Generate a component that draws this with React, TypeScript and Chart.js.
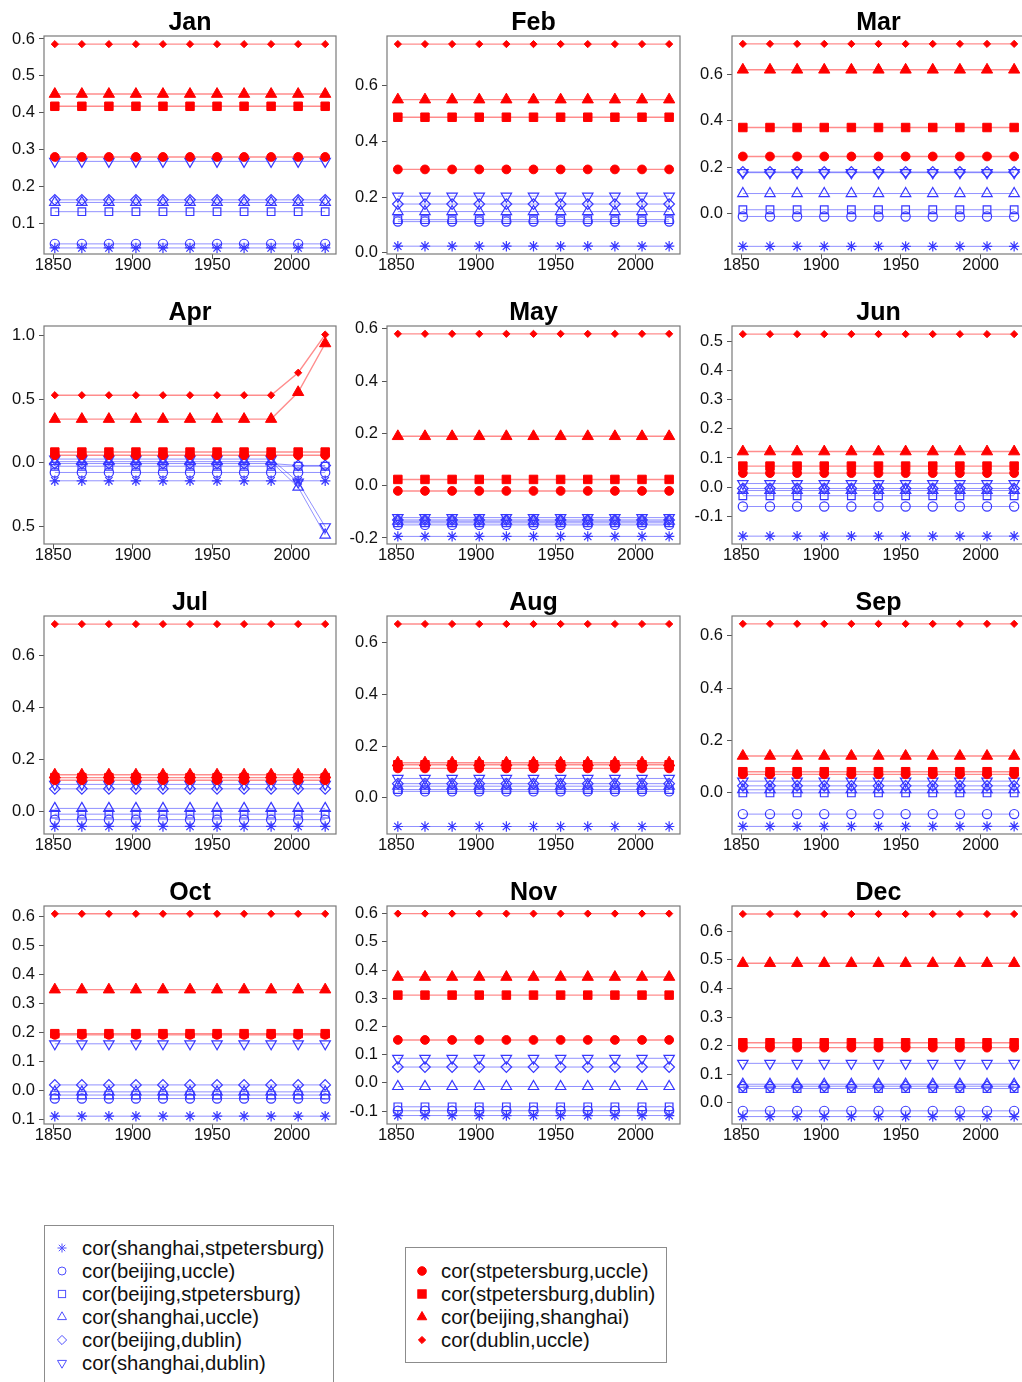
import React, { useEffect, useRef } from 'react';
import { Chart, registerables } from 'chart.js';

Chart.register(...registerables);

const MONTHS = ['Jan', 'Feb', 'Mar', 'Apr', 'May', 'Jun', 'Jul', 'Aug', 'Sep', 'Oct', 'Nov', 'Dec'];
const YEARS = [1851, 1868, 1885, 1902, 1919, 1936, 1953, 1970, 1987, 2004, 2021];
const X_TICKS = [1850, 1900, 1950, 2000];
const X_MIN = 1844.2;
const X_MAX = 2027.8;

// Monthly levels (Jan..Dec)
const SHANGHAI_STPETERSBURG = [0.035, 0.024, -0.142, -0.14, -0.194, -0.169, -0.056, -0.111, -0.128, -0.09, -0.116, -0.048];
const BEIJING_UCCLE = [0.046, 0.112, -0.013, -0.075, -0.15, -0.067, -0.03, 0.025, -0.081, -0.029, -0.099, -0.028];
const BEIJING_STPETERSBURG = [0.133, 0.119, 0.016, -0.026, -0.142, -0.03, -0.009, 0.032, 0.0, -0.017, -0.085, 0.05];
const SHANGHAI_UCCLE = [0.158, 0.148, 0.086, 0.01, -0.136, -0.012, 0.013, 0.045, 0.012, -0.006, -0.013, 0.065];
const BEIJING_DUBLIN = [0.165, 0.175, 0.179, -0.005, -0.131, -0.005, 0.088, 0.055, 0.027, 0.018, 0.056, 0.058];
const SHANGHAI_DUBLIN = [0.269, 0.203, 0.176, 0.03, -0.122, 0.012, 0.105, 0.075, 0.045, 0.16, 0.087, 0.138];
const STPETERSBURG_UCCLE = [0.281, 0.299, 0.246, 0.06, -0.02, 0.048, 0.121, 0.114, 0.071, 0.191, 0.152, 0.193];
const STPETERSBURG_DUBLIN = [0.418, 0.486, 0.371, 0.085, 0.024, 0.072, 0.131, 0.128, 0.081, 0.195, 0.311, 0.21];
const BEIJING_SHANGHAI = [0.451, 0.549, 0.62, 0.343, 0.189, 0.122, 0.142, 0.136, 0.141, 0.347, 0.375, 0.488];
const DUBLIN_UCCLE = [0.586, 0.748, 0.732, 0.53, 0.581, 0.526, 0.719, 0.673, 0.646, 0.609, 0.6, 0.66];

// April series that change over the last years
const APR_SHANGHAI_UCCLE = [0.01, 0.01, 0.01, 0.01, 0.01, 0.01, 0.01, 0.01, 0.01, -0.19, -0.565];
const APR_BEIJING_DUBLIN = [-0.005, -0.005, -0.005, -0.005, -0.005, -0.005, -0.005, -0.005, -0.005, -0.02, -0.02];
const APR_SHANGHAI_DUBLIN = [0.03, 0.03, 0.03, 0.03, 0.03, 0.03, 0.03, 0.03, 0.03, -0.15, -0.5];
const APR_BEIJING_SHANGHAI = [0.343, 0.343, 0.343, 0.343, 0.343, 0.343, 0.343, 0.343, 0.343, 0.553, 0.935];
const APR_DUBLIN_UCCLE = [0.53, 0.53, 0.53, 0.53, 0.53, 0.53, 0.53, 0.53, 0.53, 0.706, 1.005];

// Axis ranges and tick labels per month
const Y_MIN = [0.0186, -0.004, -0.175, -0.635, -0.223, -0.196, -0.085, -0.14, -0.157, -0.117, -0.146, -0.074];
const Y_MAX = [0.608, 0.777, 0.766, 1.072, 0.611, 0.554, 0.75, 0.704, 0.676, 0.636, 0.627, 0.688];
const Y_TICKS = [
  [0.1, 0.2, 0.3, 0.4, 0.5, 0.6],
  [0.0, 0.2, 0.4, 0.6],
  [0.0, 0.2, 0.4, 0.6],
  [-0.5, 0.0, 0.5, 1.0],
  [-0.2, 0.0, 0.2, 0.4, 0.6],
  [-0.1, 0.0, 0.1, 0.2, 0.3, 0.4, 0.5],
  [0.0, 0.2, 0.4, 0.6],
  [0.0, 0.2, 0.4, 0.6],
  [0.0, 0.2, 0.4, 0.6],
  [-0.1, 0.0, 0.1, 0.2, 0.3, 0.4, 0.5, 0.6],
  [-0.1, 0.0, 0.1, 0.2, 0.3, 0.4, 0.5, 0.6],
  [0.0, 0.1, 0.2, 0.3, 0.4, 0.5, 0.6],
];

const BLUE = 'rgb(55,55,255)';
const BLUE_LINE = 'rgba(55,55,255,0.55)';
const RED = 'rgb(255,0,0)';
const RED_LINE = 'rgba(255,0,0,0.45)';
const FONT = "'Liberation Sans', Arial, Helvetica, sans-serif";

type Series = {
  label: string;
  levels: number[];
  april?: number[];
  red: boolean;
  style: string;
  radius: number;
  rotation?: number;
};

const SERIES: Series[] = [
  { label: 'cor(shanghai,stpetersburg)', levels: SHANGHAI_STPETERSBURG, red: false, style: 'star', radius: 5.2 },
  { label: 'cor(beijing,uccle)', levels: BEIJING_UCCLE, red: false, style: 'circle', radius: 4.6 },
  { label: 'cor(beijing,stpetersburg)', levels: BEIJING_STPETERSBURG, red: false, style: 'rect', radius: 5.4 },
  { label: 'cor(shanghai,uccle)', levels: SHANGHAI_UCCLE, april: APR_SHANGHAI_UCCLE, red: false, style: 'triangle', radius: 6 },
  { label: 'cor(beijing,dublin)', levels: BEIJING_DUBLIN, april: APR_BEIJING_DUBLIN, red: false, style: 'rectRot', radius: 5.3 },
  { label: 'cor(shanghai,dublin)', levels: SHANGHAI_DUBLIN, april: APR_SHANGHAI_DUBLIN, red: false, style: 'triangle', radius: 6, rotation: 180 },
  { label: 'cor(stpetersburg,uccle)', levels: STPETERSBURG_UCCLE, red: true, style: 'circle', radius: 4.4 },
  { label: 'cor(stpetersburg,dublin)', levels: STPETERSBURG_DUBLIN, red: true, style: 'rect', radius: 6 },
  { label: 'cor(beijing,shanghai)', levels: BEIJING_SHANGHAI, april: APR_BEIJING_SHANGHAI, red: true, style: 'triangle', radius: 6.5 },
  { label: 'cor(dublin,uccle)', levels: DUBLIN_UCCLE, april: APR_DUBLIN_UCCLE, red: true, style: 'rectRot', radius: 3.6 },
];

const COLS = [
  { left: 12, yw: 32, pw: 292 },
  { left: 345, yw: 42, pw: 293 },
  { left: 690, yw: 42, pw: 293 },
];
const ROW_STEP = 290;
const CANVAS_TOP = -2;
const CANVAS_H = 286;
const X_AXIS_H = 30;
const RIGHT_PAD = 8;

const framePlugin = {
  id: 'frame',
  afterDatasetsDraw(chart: any) {
    const { ctx, chartArea: a } = chart;
    ctx.save();
    ctx.strokeStyle = '#7a7a7a';
    ctx.lineWidth = 1.2;
    ctx.strokeRect(a.left, a.top, a.right - a.left, a.bottom - a.top);
    ctx.restore();
  },
};

function Panel({ m }: { m: number }) {
  const ref = useRef<HTMLCanvasElement>(null);
  const col = COLS[m % 3];
  const row = Math.floor(m / 3);
  const width = col.yw + col.pw + RIGHT_PAD;

  useEffect(() => {
    if (!ref.current) return;
    const datasets = SERIES.map((s) => {
      const values = m === 3 && s.april ? s.april : YEARS.map(() => s.levels[m]);
      const c = s.red ? RED : BLUE;
      return {
        label: s.label,
        data: YEARS.map((x, i) => ({ x, y: values[i] })),
        borderColor: s.red ? RED_LINE : BLUE_LINE,
        borderWidth: s.red ? 1.4 : 1,
        pointStyle: s.style,
        pointRadius: s.radius,
        pointRotation: s.rotation || 0,
        pointBorderColor: c,
        pointBackgroundColor: s.red ? c : 'rgba(0,0,0,0)',
        pointBorderWidth: s.red ? 1 : 1.2,
        tension: 0,
        fill: false,
        order: s.red ? 0 : 1,
        clip: false as any,
      };
    });
    const tickFont = { family: FONT, size: 16.5 };
    const chart = new Chart(ref.current, {
      type: 'line',
      data: { datasets },
      plugins: [framePlugin],
      options: {
        animation: false,
        responsive: false,
        maintainAspectRatio: false,
        devicePixelRatio: 1,
        events: [],
        layout: { padding: { top: 0, left: 0, right: RIGHT_PAD, bottom: 0 } },
        plugins: {
          legend: { display: false },
          tooltip: { enabled: false },
          title: {
            display: true,
            fullSize: false,
            text: MONTHS[m],
            color: '#000',
            font: { family: FONT, size: 25, weight: 'bold', lineHeight: 1.2 },
            padding: { top: 10, bottom: -2 },
          },
        },
        scales: {
          x: {
            type: 'linear',
            min: X_MIN,
            max: X_MAX,
            afterBuildTicks: (s: any) => {
              s.ticks = X_TICKS.map((v) => ({ value: v }));
            },
            afterFit: (s: any) => {
              s.height = X_AXIS_H;
            },
            ticks: {
              font: tickFont,
              color: '#111',
              padding: -3,
              maxRotation: 0,
              autoSkip: false,
              callback: (v: any) => String(v),
            },
            grid: { display: true, drawOnChartArea: false, drawTicks: true, tickLength: 5, tickColor: '#555', color: '#555' },
            border: { display: false },
          },
          y: {
            type: 'linear',
            min: Y_MIN[m],
            max: Y_MAX[m],
            afterBuildTicks: (s: any) => {
              s.ticks = Y_TICKS[m].map((v) => ({ value: v }));
            },
            afterFit: (s: any) => {
              s.width = col.yw;
            },
            ticks: {
              font: tickFont,
              color: '#111',
              padding: 4,
              autoSkip: false,
              callback: (v: any) => Number(v).toFixed(1),
            },
            grid: { display: true, drawOnChartArea: false, drawTicks: true, tickLength: 5, tickColor: '#555', color: '#555' },
            border: { display: false },
          },
        },
      } as any,
    });
    return () => chart.destroy();
  }, [m]);

  return (
    <canvas
      ref={ref}
      width={width}
      height={CANVAS_H}
      style={{ position: 'absolute', left: col.left, top: row * ROW_STEP + CANVAS_TOP, width, height: CANVAS_H }}
    />
  );
}

function Symbol({ s }: { s: Series }) {
  const c = s.red ? 'rgb(255,0,0)' : 'rgb(80,80,255)';
  const fill = s.red ? c : 'none';
  const sw = 1;
  let shape: React.ReactNode = null;
  if (s.style === 'star') {
    shape = (
      <g stroke={c} strokeWidth={sw}>
        <line x1={7} y1={2.5} x2={7} y2={11.5} />
        <line x1={2.5} y1={7} x2={11.5} y2={7} />
        <line x1={3.8} y1={3.8} x2={10.2} y2={10.2} />
        <line x1={3.8} y1={10.2} x2={10.2} y2={3.8} />
      </g>
    );
  } else if (s.style === 'circle') {
    shape = <circle cx={7} cy={7} r={s.red ? 4.3 : 4} stroke={c} strokeWidth={sw} fill={fill} />;
  } else if (s.style === 'rect') {
    const h = s.red ? 4.2 : 3.6;
    shape = <rect x={7 - h} y={7 - h} width={2 * h} height={2 * h} stroke={c} strokeWidth={sw} fill={fill} />;
  } else if (s.style === 'triangle') {
    const r = s.red ? 5.5 : 5.2;
    const down = s.rotation === 180;
    const pts = down
      ? `${7},${7 + r} ${7 - r * 0.866},${7 - r / 2} ${7 + r * 0.866},${7 - r / 2}`
      : `${7},${7 - r} ${7 - r * 0.866},${7 + r / 2} ${7 + r * 0.866},${7 + r / 2}`;
    shape = <polygon points={pts} stroke={c} strokeWidth={sw} fill={fill} />;
  } else if (s.style === 'rectRot') {
    const r = s.red ? 3.6 : 4.6;
    shape = <polygon points={`7,${7 - r} ${7 + r},7 7,${7 + r} ${7 - r},7`} stroke={c} strokeWidth={sw} fill={fill} />;
  }
  return (
    <svg width={14} height={14} style={{ position: 'absolute', left: -7, top: 4.5 }}>
      {shape}
    </svg>
  );
}

function Legend({ items, box, symX, textX, firstY }: { items: Series[]; box: { left: number; top: number; width: number; height: number }; symX: number; textX: number; firstY: number }) {
  return (
    <>
      <div
        style={{
          position: 'absolute',
          left: box.left,
          top: box.top,
          width: box.width,
          height: box.height,
          border: '1px solid #8c8c8c',
          boxSizing: 'border-box',
        }}
      />
      {items.map((s, i) => (
        <div key={s.label} style={{ position: 'absolute', left: 0, top: firstY + i * 23 - 11.5, height: 23, width: 1 }}>
          <div style={{ position: 'absolute', left: symX, top: 0 }}>
            <Symbol s={s} />
          </div>
          <div
            style={{
              position: 'absolute',
              left: textX,
              top: 0,
              height: 23,
              lineHeight: '23px',
              fontSize: 20.3,
              fontFamily: FONT,
              color: '#111',
              whiteSpace: 'nowrap',
            }}
          >
            {s.label}
          </div>
        </div>
      ))}
    </>
  );
}

export default function App() {
  return (
    <div
      style={{
        position: 'fixed',
        left: 0,
        top: 0,
        width: 1022,
        height: 1382,
        overflow: 'hidden',
        background: '#fff',
      }}
    >
      {MONTHS.map((_, m) => (
        <Panel key={m} m={m} />
      ))}
      <Legend
        items={SERIES.slice(0, 6)}
        box={{ left: 44, top: 1225, width: 290, height: 180 }}
        symX={62}
        textX={82}
        firstY={1248}
      />
      <Legend
        items={SERIES.slice(6)}
        box={{ left: 405, top: 1247, width: 262, height: 116 }}
        symX={422}
        textX={441}
        firstY={1271}
      />
    </div>
  );
}
